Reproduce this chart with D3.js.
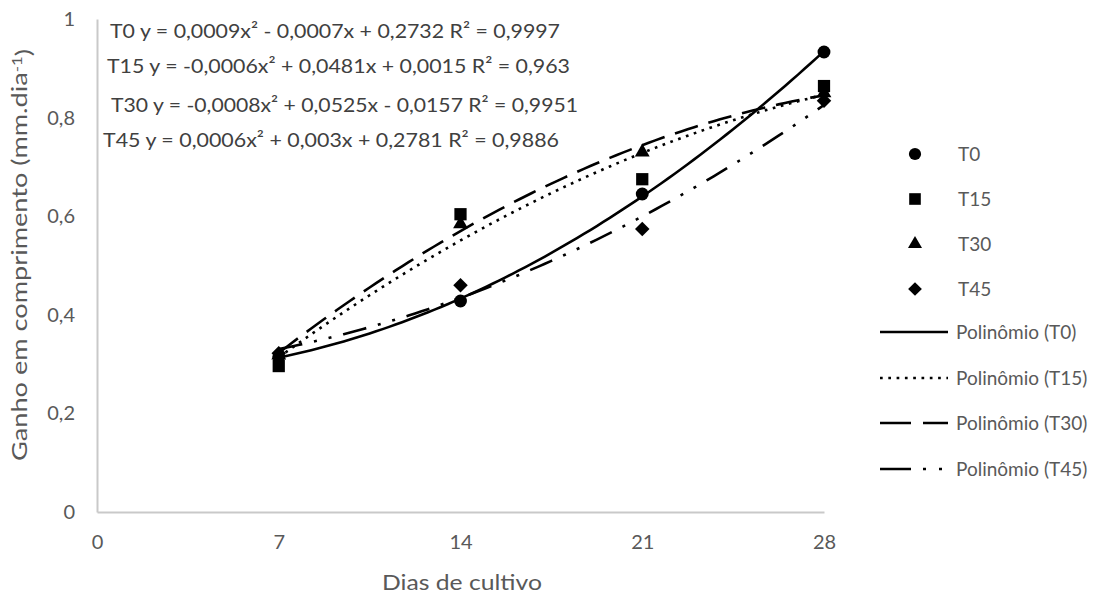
<!DOCTYPE html>
<html>
<head>
<meta charset="utf-8">
<script src="https://cdn.jsdelivr.net/npm/d3@7"></script>
<style>
  html, body { margin: 0; padding: 0; background: #fff; }
  svg { display: block; font-family: Lato, "Open Sans", sans-serif; }
</style>
</head>
<body>
<svg id="chart" width="1120" height="598"></svg>
<script>
// Growth in length per day over the culture period, four treatments
const days = [7, 14, 21, 28];
const seriesNames = ["T0", "T15", "T30", "T45"];
const t0Values  = [0.315, 0.428, 0.645, 0.933];
const t15Values = [0.296, 0.604, 0.675, 0.864];
const t30Values = [0.318, 0.584, 0.730, 0.850];
const t45Values = [0.322, 0.460, 0.574, 0.834];
const xTicks = [0, 7, 14, 21, 28];
const yTicks = [0, 0.2, 0.4, 0.6, 0.8, 1];
const yTickLabels = ["0", "0,2", "0,4", "0,6", "0,8", "1"];
const equationLabels = [
  "T0 y = 0,0009x² - 0,0007x + 0,2732 R² = 0,9997",
  "T15 y = -0,0006x² + 0,0481x + 0,0015 R² = 0,963",
  "T30 y = -0,0008x² + 0,0525x - 0,0157 R² = 0,9951",
  "T45 y = 0,0006x² + 0,003x + 0,2781 R² = 0,9886"
];
const trendNames = ["Polinômio (T0)", "Polinômio (T15)", "Polinômio (T30)", "Polinômio (T45)"];
const xTitle = "Dias de cultivo";

const allValues = [t0Values, t15Values, t30Values, t45Values];

const svg = d3.select("#chart");
const x = d3.scaleLinear().domain([0, 28]).range([97, 824]);
const y = d3.scaleLinear().domain([0, 1]).range([512, 19]);

const textGrey = "#595959";
const axisGrey = "#c9c9c9";

// square diamond (equal width and height)
const squareDiamond = {
  draw(ctx, size) {
    const r = Math.sqrt(size / 2);
    ctx.moveTo(0, -r); ctx.lineTo(r, 0); ctx.lineTo(0, r); ctx.lineTo(-r, 0); ctx.closePath();
  }
};

// marker shapes per series
const symbolTypes = [d3.symbolCircle, d3.symbolSquare, d3.symbolTriangle, squareDiamond];
const symbolSizes = [130, 150, 95, 105];

// line styles of the polynomial trendlines
const plotDash = [null, "2.7,5.6", "24,11", "24,12,3,12,3,12"];
const legendDash = [null, "2.7,5.6", "31,12", "31,12,3,13,3,13"];

// least-squares quadratic fit y = a x^2 + b x + c
function quadFit(xs, ys) {
  let s = [0, 0, 0, 0, 0], t = [0, 0, 0];
  xs.forEach((xi, i) => {
    for (let k = 0; k < 5; k++) s[k] += Math.pow(xi, k);
    for (let k = 0; k < 3; k++) t[k] += ys[i] * Math.pow(xi, k);
  });
  const M = [[s[4], s[3], s[2], t[2]], [s[3], s[2], s[1], t[1]], [s[2], s[1], s[0], t[0]]];
  for (let i = 0; i < 3; i++) {
    for (let j = i + 1; j < 3; j++) {
      const f = M[j][i] / M[i][i];
      for (let k = i; k < 4; k++) M[j][k] -= f * M[i][k];
    }
  }
  const r = [0, 0, 0];
  for (let i = 2; i >= 0; i--) {
    let v = M[i][3];
    for (let k = i + 1; k < 3; k++) v -= M[i][k] * r[k];
    r[i] = v / M[i][i];
  }
  return r; // [a, b, c]
}

// axes
const yAxis = d3.axisLeft(y).tickValues(yTicks)
  .tickFormat((d, i) => yTickLabels[i]).tickSize(0).tickPadding(22);
const gy = svg.append("g").attr("transform", `translate(${x(0)},0)`).call(yAxis);
const xAxis = d3.axisBottom(x).tickValues(xTicks).tickSize(0).tickPadding(23);
const gx = svg.append("g").attr("transform", `translate(0,${y(0)})`).call(xAxis);
[gx, gy].forEach(g => {
  g.select(".domain").attr("stroke", axisGrey).attr("stroke-width", 2);
  g.selectAll("text").attr("fill", textGrey).style("font-size", "20px").style("font-family", "Lato");
});

// trendlines
const curveX = d3.range(7, 28.001, 0.25);
const line = d3.line().x(d => x(d[0])).y(d => y(d[1]));
allValues.forEach((vals, i) => {
  const [a, b, c] = quadFit(days, vals);
  const pts = curveX.map(v => [v, a * v * v + b * v + c]);
  svg.append("path").datum(pts)
    .attr("d", line)
    .attr("fill", "none")
    .attr("stroke", "#000")
    .attr("stroke-width", 2.6)
    .attr("stroke-dasharray", plotDash[i]);
});

// data markers
allValues.forEach((vals, i) => {
  svg.append("g").selectAll("path").data(vals).join("path")
    .attr("d", d3.symbol().type(symbolTypes[i]).size(symbolSizes[i]))
    .attr("transform", (d, j) => `translate(${x(days[j])},${y(d)})`)
    .attr("fill", "#000");
});

// fitted equations
const eqX = [110, 107, 111, 103];
const eqY = [31, 66, 105, 140];
const eqWidth = [450, 463, 467, 456];
svg.append("g").selectAll("text").data(equationLabels).join("text")
  .attr("x", (d, i) => eqX[i])
  .attr("y", (d, i) => eqY[i])
  .attr("dy", "0.35em")
  .attr("fill", "#404040")
  .attr("textLength", (d, i) => eqWidth[i])
  .attr("lengthAdjust", "spacingAndGlyphs")
  .style("font-size", "20px")
  .text(d => d);

// axis titles
svg.append("text")
  .attr("x", 462).attr("y", 583).attr("dy", "0.35em")
  .attr("text-anchor", "middle")
  .attr("fill", textGrey)
  .attr("textLength", 160)
  .attr("lengthAdjust", "spacingAndGlyphs")
  .style("font-size", "21px")
  .text(xTitle);

const yTitle = svg.append("text")
  .attr("transform", "translate(20,255) rotate(-90)")
  .attr("text-anchor", "middle")
  .attr("dy", "0.35em")
  .attr("fill", textGrey)
  .attr("textLength", 412)
  .attr("lengthAdjust", "spacingAndGlyphs")
  .style("font-size", "21px");
yTitle.append("tspan").text("Ganho em comprimento (mm.dia");
yTitle.append("tspan").attr("dy", "-0.45em").style("font-size", "13px").text("-1");
yTitle.append("tspan").attr("dy", "0.45em").text(")");

// legend
const legMarkY = [154, 199, 244, 289];
const legLineY = [332, 378, 423, 469];
seriesNames.forEach((name, i) => {
  svg.append("path")
    .attr("d", d3.symbol().type(symbolTypes[i]).size(symbolSizes[i] * 0.9))
    .attr("transform", `translate(915,${legMarkY[i]})`)
    .attr("fill", "#000");
  svg.append("text")
    .attr("x", 958).attr("y", legMarkY[i]).attr("dy", "0.35em")
    .attr("fill", textGrey).style("font-size", "19px")
    .text(name);
});
trendNames.forEach((name, i) => {
  svg.append("line")
    .attr("x1", 880).attr("x2", 948)
    .attr("y1", legLineY[i]).attr("y2", legLineY[i])
    .attr("stroke", "#000").attr("stroke-width", 2.6)
    .attr("stroke-dasharray", legendDash[i]);
  svg.append("text")
    .attr("x", 956).attr("y", legLineY[i]).attr("dy", "0.35em")
    .attr("fill", textGrey).style("font-size", "19px")
    .text(name);
});
</script>
</body>
</html>
